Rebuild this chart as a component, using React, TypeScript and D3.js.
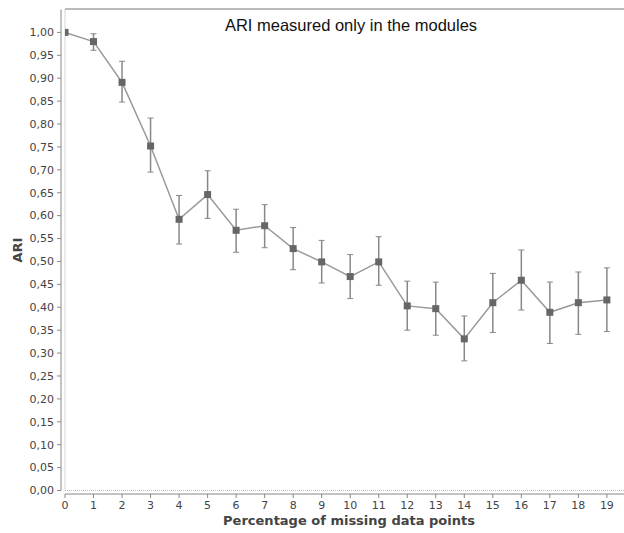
import React from "react";
import * as d3 from "d3";

const xValues = [0, 1, 2, 3, 4, 5, 6, 7, 8, 9, 10, 11, 12, 13, 14, 15, 16, 17, 18, 19];
const means = [1.0, 0.98, 0.891, 0.752, 0.592, 0.646, 0.568, 0.578, 0.528, 0.499, 0.467, 0.499, 0.403, 0.397, 0.331, 0.41, 0.459, 0.389, 0.41, 0.416];
const upper = [1.0, 0.997, 0.937, 0.813, 0.644, 0.698, 0.614, 0.624, 0.574, 0.546, 0.515, 0.554, 0.457, 0.455, 0.381, 0.474, 0.525, 0.455, 0.477, 0.486];
const lower = [1.0, 0.961, 0.848, 0.695, 0.538, 0.594, 0.52, 0.53, 0.482, 0.453, 0.419, 0.448, 0.35, 0.339, 0.283, 0.345, 0.394, 0.321, 0.341, 0.347];
const yTicks = d3.range(0, 21).map((i) => i * 0.05);
const xTicks = xValues;
const title = "ARI measured only in the modules";
const xLabel = "Percentage of missing data points";
const yLabel = "ARI";

const W = 624;
const H = 533;
const left = 65;
const right = 624;
const top = 9.5;
const bottom = 490.5;

export default function App() {
  const x = d3.scaleLinear().domain([0, 19.6]).range([left, right]);
  const y = d3.scaleLinear().domain([0, 1.05]).range([bottom, top]);
  const fmt = (v: number) => v.toFixed(2).replace(".", ",");
  const line = d3
    .line<number>()
    .x((_, i) => x(xValues[i]))
    .y((d) => y(d));
  const tickFont = "DejaVu Sans, sans-serif";
  return (
    <svg
      width={W}
      height={H}
      style={{ position: "absolute", left: 0, top: 0, background: "#fff" }}
    >
      <defs>
        <clipPath id="plotClip">
          <rect x={left} y={top - 1} width={right - left + 5} height={bottom - top + 2} />
        </clipPath>
      </defs>
      <rect x={0} y={0} width={W} height={H} fill="#fff" />
      <line x1={left} x2={W} y1={9} y2={9} stroke="#777" strokeWidth={1} />
      <line x1={left} x2={W} y1={y(0)} y2={y(0)} stroke="#bbb" strokeWidth={1.2} strokeDasharray="1,1" />
      <line x1={left} x2={left} y1={top} y2={bottom} stroke="#bbb" strokeWidth={1.2} strokeDasharray="1,1" />
      <line x1={61} x2={61} y1={top} y2={bottom} stroke="#888" strokeWidth={1} />
      {yTicks.map((t) => (
        <g key={"y" + t}>
          <line x1={57} x2={61} y1={y(t)} y2={y(t)} stroke="#888" />
          <text
            x={54}
            y={y(t)}
            dy="0.35em"
            textAnchor="end"
            fontFamily={tickFont}
            fontSize={11}
            fill="#444"
          >
            {fmt(t)}
          </text>
        </g>
      ))}
      <line x1={left} x2={W} y1={494} y2={494} stroke="#888" strokeWidth={1} />
      {xTicks.map((t) => (
        <g key={"x" + t}>
          <line x1={x(t)} x2={x(t)} y1={494} y2={498} stroke="#888" />
          <text
            x={x(t)}
            y={509}
            textAnchor="middle"
            fontFamily={tickFont}
            fontSize={11}
            fill="#444"
          >
            {t}
          </text>
        </g>
      ))}
      <text
        x={349}
        y={525}
        textAnchor="middle"
        fontFamily={tickFont}
        fontWeight="bold"
        fontSize={13}
        fill="#444"
      >
        {xLabel}
      </text>
      <text
        transform={`translate(22,250) rotate(-90)`}
        textAnchor="middle"
        fontFamily={tickFont}
        fontWeight="bold"
        fontSize={13}
        fill="#444"
      >
        {yLabel}
      </text>
      <g clipPath="url(#plotClip)">
        {xValues.map((xv, i) =>
          upper[i] - lower[i] > 0.005 ? (
            <g key={"e" + i} stroke="#888" strokeWidth={1.5}>
              <line x1={x(xv)} x2={x(xv)} y1={y(upper[i])} y2={y(lower[i])} />
              <line x1={x(xv) - 3} x2={x(xv) + 3} y1={y(upper[i])} y2={y(upper[i])} strokeWidth={1} />
              <line x1={x(xv) - 3} x2={x(xv) + 3} y1={y(lower[i])} y2={y(lower[i])} strokeWidth={1} />
            </g>
          ) : null
        )}
        <path d={line(means) || ""} fill="none" stroke="#999" strokeWidth={1.5} />
        {xValues.map((xv, i) => (
          <rect
            key={"m" + i}
            x={x(xv) - 3.5}
            y={y(means[i]) - 3.5}
            width={7}
            height={7}
            fill="#666"
          />
        ))}
      </g>
      <text
        x={351}
        y={31}
        textAnchor="middle"
        fontFamily="Liberation Sans, Arial, sans-serif"
        fontSize={16.5}
        fill="#111"
      >
        {title}
      </text>
    </svg>
  );
}
